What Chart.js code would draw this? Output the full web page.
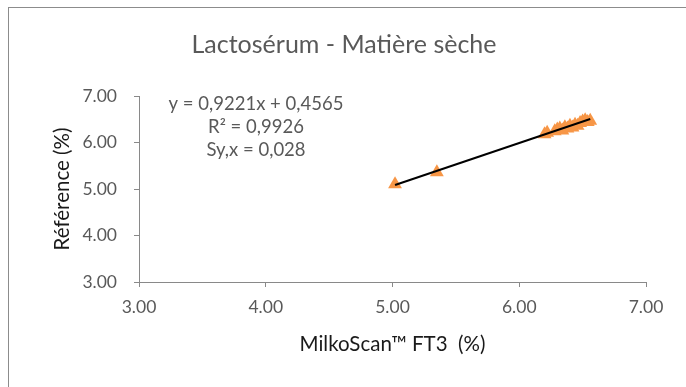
<!DOCTYPE html>
<html>
<head>
<meta charset="utf-8">
<script src="https://cdn.jsdelivr.net/npm/chart.js@4.4.1/dist/chart.umd.min.js"></script>
<style>
  body { margin: 0; background: #fff; }
  #wrap { position: relative; width: 686px; height: 387px; overflow: hidden; }
  #frame { position: absolute; left: 8px; top: 7px; width: 720px; height: 420px; border: 1px solid #8c8c8c; }
  canvas { position: absolute; left: 0; top: 0; }
</style>
</head>
<body>
<div id="wrap">
  <div id="frame"></div>
  <canvas id="chart" width="686" height="387"></canvas>
</div>
<script>
// MilkoScan FT3 values (x) and reference values (y)
const milkoScan = [5.02, 5.35, 6.20, 6.22, 6.28, 6.30, 6.32, 6.34, 6.36, 6.38, 6.40, 6.42, 6.44, 6.46, 6.48, 6.50, 6.52, 6.54, 6.56];
const reference = [5.10, 5.36, 6.18, 6.21, 6.24, 6.28, 6.30, 6.26, 6.33, 6.30, 6.36, 6.32, 6.38, 6.36, 6.42, 6.45, 6.48, 6.44, 6.47];

// trend line coefficients
const slope = 0.9221;
const intercept = 0.4565;

const axisTicks = [3, 4, 5, 6, 7];
const statsLines = ["y = 0,9221x + 0,4565", "R\u00b2 = 0,9926", "Sy,x = 0,028"];

const points = milkoScan.map((x, i) => ({ x: x, y: reference[i] }));
const xMin = Math.min(...milkoScan);
const xMax = Math.max(...milkoScan);
const trend = [
  { x: xMin, y: slope * xMin + intercept },
  { x: xMax, y: slope * xMax + intercept }
];

const FONT = "Lato, 'Open Sans', sans-serif";

// title and regression text
const textPlugin = {
  id: 'texts',
  afterDraw(chart) {
    const ctx = chart.ctx;
    ctx.save();
    ctx.fillStyle = '#595959';
    ctx.textAlign = 'center';
    ctx.textBaseline = 'middle';
    ctx.font = "25px " + FONT;
    ctx.fillText("Lactosérum - Matière sèche", 344, 45);
    ctx.font = "18.5px " + FONT;
    statsLines.forEach((line, i) => {
      ctx.fillText(line, 256, 104 + i * 23);
    });
    ctx.restore();
  }
};

const axisStyle = {
  type: 'linear',
  min: 3,
  max: 7,
  afterBuildTicks(scale) {
    scale.ticks = axisTicks.map(v => ({ value: v }));
  },
  grid: {
    drawOnChartArea: false,
    drawTicks: true,
    tickLength: 5,
    color: '#898989'
  },
  border: { display: true, color: '#898989', width: 1 }
};

new Chart(document.getElementById('chart'), {
  type: 'scatter',
  data: {
    datasets: [
      {
        label: 'Trend',
        type: 'line',
        data: trend,
        borderColor: '#000000',
        borderWidth: 2,
        pointRadius: 0,
        fill: false,
        order: 0
      },
      {
        label: 'Lactosérum',
        data: points,
        pointStyle: 'triangle',
        pointRadius: 8,
        pointHoverRadius: 8,
        backgroundColor: '#F79646',
        borderColor: '#F79646',
        borderWidth: 0,
        order: 1
      }
    ]
  },
  options: {
    responsive: false,
    animation: false,
    events: [],
    layout: { padding: { left: 0, top: 96, right: 40, bottom: 0 } },
    plugins: {
      legend: { display: false },
      tooltip: { enabled: false }
    },
    scales: {
      x: Object.assign({}, axisStyle, {
        position: 'bottom',
        afterFit(scale) { scale.height = 105; },
        ticks: {
          padding: 10,
          color: '#595959',
          font: { family: FONT, size: 17.5 },
          callback: v => v.toFixed(2)
        },
        title: {
          display: true,
          text: 'MilkoScan\u2122 FT3  (%)',
          color: '#1a1a1a',
          font: { family: FONT, size: 20.5 },
          padding: { bottom: 30 }
        }
      }),
      y: Object.assign({}, axisStyle, {
        position: 'left',
        afterFit(scale) { scale.width = 139; },
        ticks: {
          padding: 17,
          color: '#595959',
          font: { family: FONT, size: 17.5 },
          callback: v => v.toFixed(2)
        },
        title: {
          display: true,
          text: 'Référence (%)',
          color: '#1a1a1a',
          font: { family: FONT, size: 20.5 },
          padding: { top: 50 }
        }
      })
    }
  },
  plugins: [textPlugin]
});
</script>
</body>
</html>
